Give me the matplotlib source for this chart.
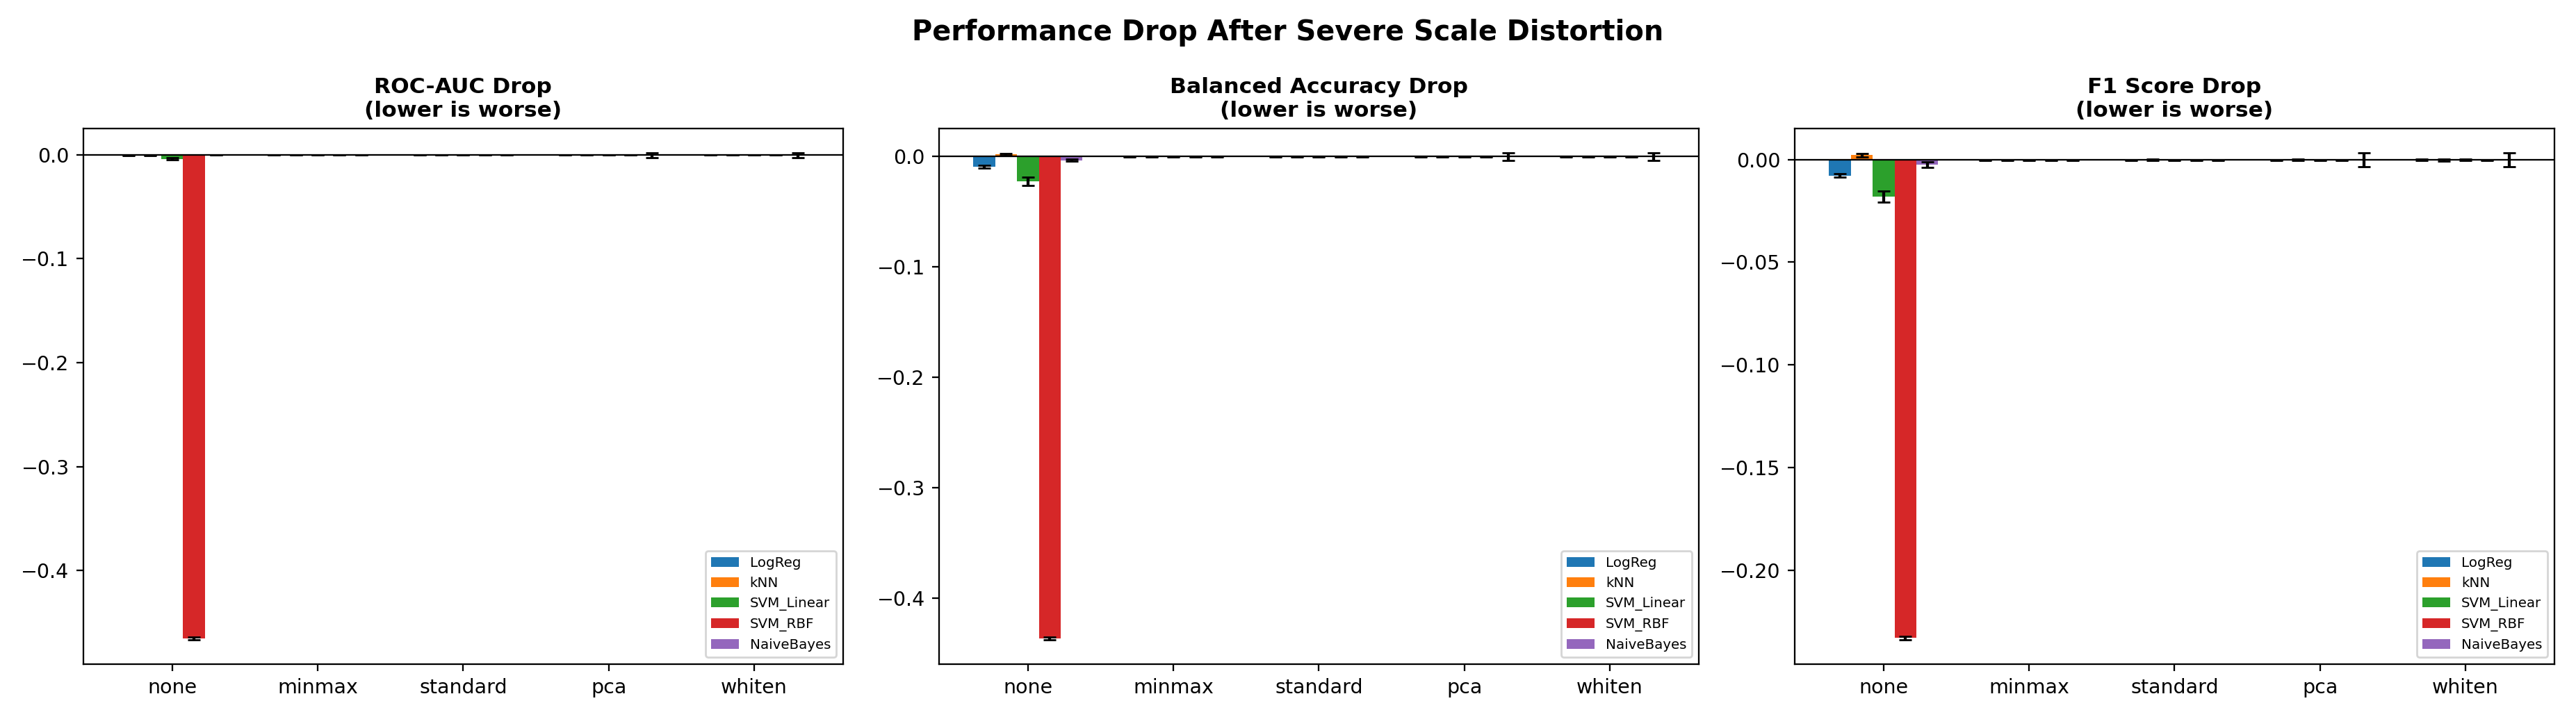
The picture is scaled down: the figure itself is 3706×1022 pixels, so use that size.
import numpy as np
import matplotlib.pyplot as plt

scalers = ["none", "minmax", "standard", "pca", "whiten"]
models = ["LogReg", "kNN", "SVM_Linear", "SVM_RBF", "NaiveBayes"]
colors = ["#1f77b4", "#ff7f0e", "#2ca02c", "#d62728", "#9467bd"]

# mean drop per model, one value per scaler
roc_mean = {
    "LogReg":     [-0.0008, -0.0002, -0.0002, -0.0003, -0.0003],
    "kNN":        [-0.0005, -0.0003, -0.0002, -0.0003, -0.0003],
    "SVM_Linear": [-0.0040, -0.0002, -0.0002, -0.0002, -0.0002],
    "SVM_RBF":    [-0.4650, -0.0003, -0.0002, -0.0003, -0.0003],
    "NaiveBayes": [-0.0002, -0.0002, -0.0002, -0.0004, -0.0006],
}
roc_std = {
    "LogReg":     [0.0003, 0.0001, 0.0001, 0.0001, 0.0001],
    "kNN":        [0.0003, 0.0001, 0.0001, 0.0001, 0.0001],
    "SVM_Linear": [0.0012, 0.0001, 0.0001, 0.0001, 0.0001],
    "SVM_RBF":    [0.0012, 0.0001, 0.0001, 0.0001, 0.0001],
    "NaiveBayes": [0.0002, 0.0001, 0.0001, 0.0022, 0.0022],
}

bacc_mean = {
    "LogReg":     [-0.0095, -0.0003, -0.0002, -0.0002, -0.0002],
    "kNN":        [0.0018, -0.0002, -0.0002, -0.0003, -0.0003],
    "SVM_Linear": [-0.0225, -0.0002, -0.0002, -0.0002, -0.0002],
    "SVM_RBF":    [-0.4360, -0.0002, -0.0002, -0.0002, -0.0002],
    "NaiveBayes": [-0.0033, -0.0002, -0.0002, 0.0000, 0.0000],
}
bacc_std = {
    "LogReg":     [0.0012, 0.0002, 0.0001, 0.0001, 0.0001],
    "kNN":        [0.0010, 0.0003, 0.0001, 0.0002, 0.0003],
    "SVM_Linear": [0.0035, 0.0001, 0.0001, 0.0001, 0.0001],
    "SVM_RBF":    [0.0012, 0.0001, 0.0001, 0.0001, 0.0001],
    "NaiveBayes": [0.0012, 0.0001, 0.0001, 0.0033, 0.0033],
}

f1_mean = {
    "LogReg":     [-0.0078, -0.0002, -0.0003, -0.0002, -0.0002],
    "kNN":        [0.0022, -0.0002, -0.0002, -0.0002, -0.0003],
    "SVM_Linear": [-0.0180, -0.0002, -0.0002, -0.0002, -0.0002],
    "SVM_RBF":    [-0.2330, -0.0002, -0.0002, -0.0002, -0.0002],
    "NaiveBayes": [-0.0025, -0.0002, -0.0002, 0.0000, 0.0000],
}
f1_std = {
    "LogReg":     [0.0009, 0.0002, 0.0002, 0.0002, 0.0003],
    "kNN":        [0.0008, 0.0002, 0.0003, 0.0003, 0.0005],
    "SVM_Linear": [0.0028, 0.0002, 0.0002, 0.0002, 0.0003],
    "SVM_RBF":    [0.0008, 0.0002, 0.0002, 0.0002, 0.0002],
    "NaiveBayes": [0.0013, 0.0002, 0.0002, 0.0033, 0.0033],
}

panels = [
    ("ROC-AUC Drop\n(lower is worse)", roc_mean, roc_std),
    ("Balanced Accuracy Drop\n(lower is worse)", bacc_mean, bacc_std),
    ("F1 Score Drop\n(lower is worse)", f1_mean, f1_std),
]

DPI = 205


def main():
    fig, axes = plt.subplots(1, 3, figsize=(3706 / DPI, 1022 / DPI))
    x = np.arange(len(scalers))
    width = 0.15

    for ax, (title, means, stds) in zip(axes, panels):
        for i, model in enumerate(models):
            ax.bar(
                x + (i - 2) * width,
                means[model],
                width,
                yerr=stds[model],
                capsize=3,
                color=colors[i],
                label=model,
            )
        ax.axhline(0, color="black", linewidth=0.8)
        ax.set_xticks(x)
        ax.set_xticklabels(scalers)
        ax.set_title(title, fontsize=11, fontweight="bold")
        ax.legend(loc="lower right", fontsize=7)

    fig.suptitle(
        "Performance Drop After Severe Scale Distortion",
        fontsize=14,
        fontweight="bold",
        y=0.974,
    )
    plt.tight_layout()
    plt.subplots_adjust(bottom=0.065, top=0.819)
    plt.savefig("out.png", dpi=DPI)
    plt.close()


if __name__ == "__main__":
    main()
